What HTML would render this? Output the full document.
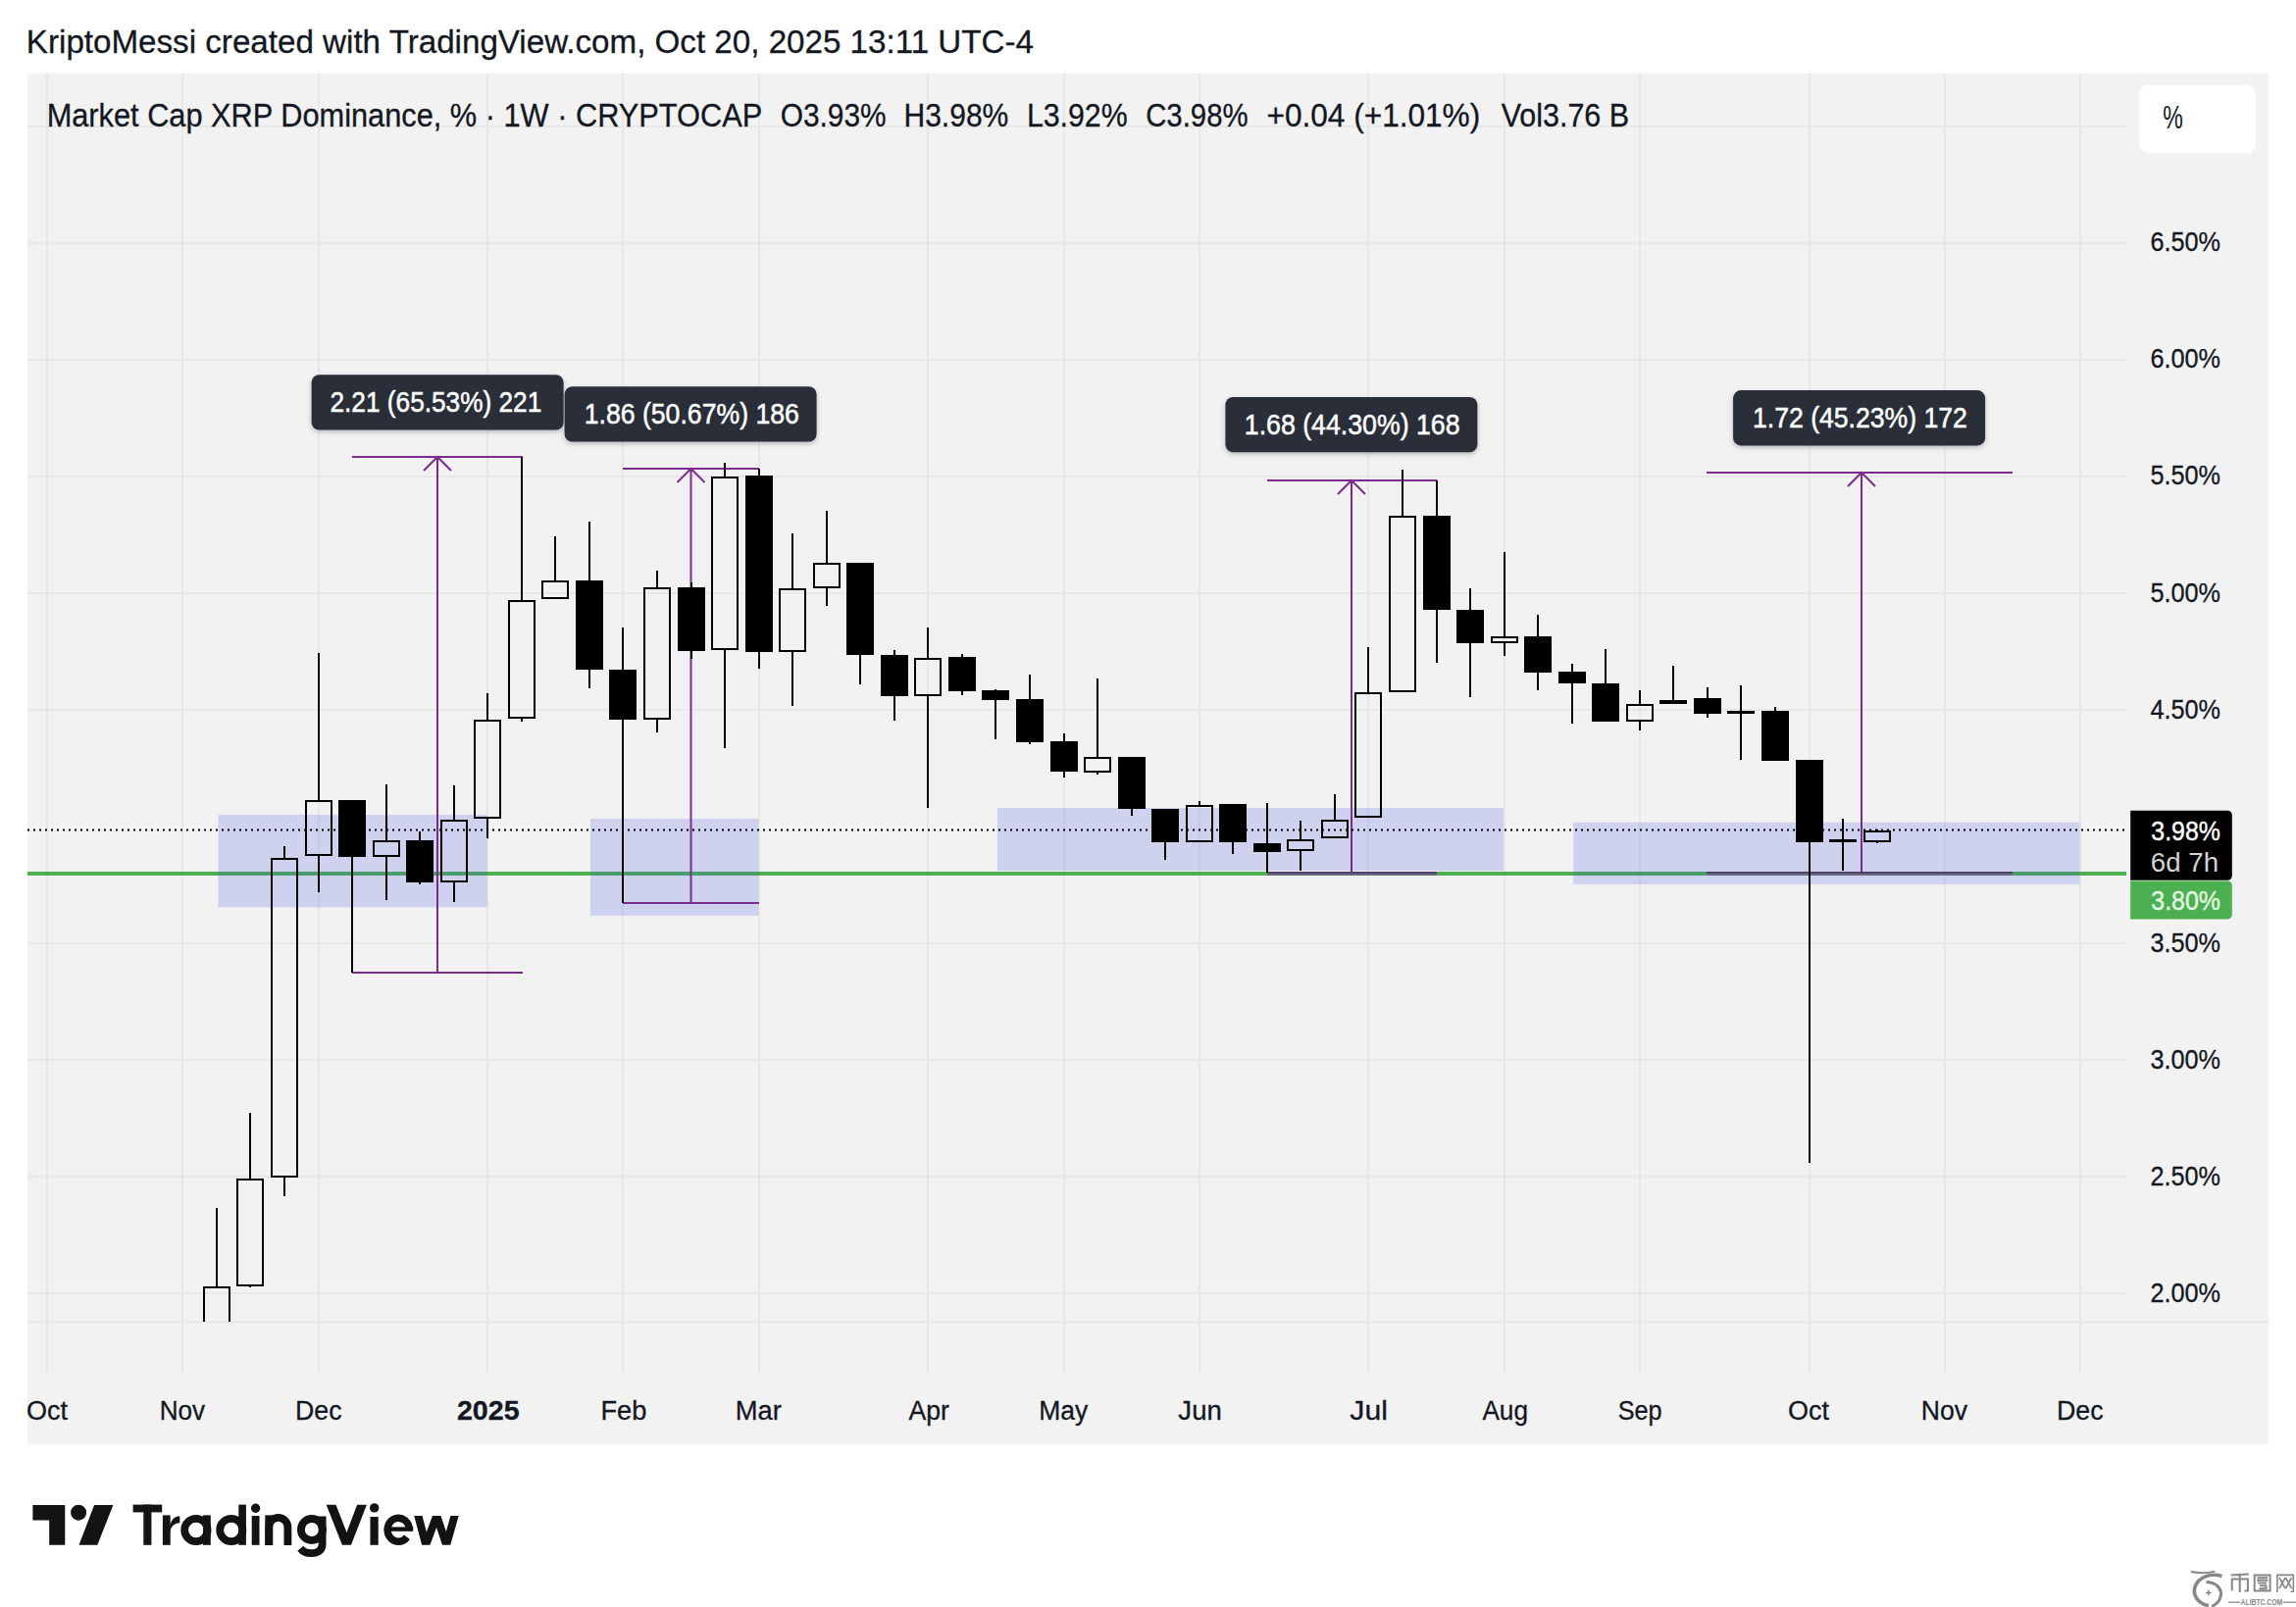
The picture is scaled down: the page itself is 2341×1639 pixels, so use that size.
<!DOCTYPE html>
<html><head><meta charset="utf-8"><style>
html,body{margin:0;padding:0;background:#fff;width:2341px;height:1639px;overflow:hidden}
svg{position:absolute;left:0;top:0;font-family:"Liberation Sans",sans-serif}
</style></head><body>
<svg width="2341" height="1639" viewBox="0 0 2341 1639">
<defs><filter id="sh" x="-10%" y="-20%" width="120%" height="150%"><feDropShadow dx="0" dy="2" stdDeviation="2.5" flood-color="#000" flood-opacity="0.25"/></filter></defs>
<rect x="28" y="75" width="2285" height="1398" fill="#f2f2f2"/>
<path d="M48 75V1400 M186 75V1400 M325 75V1400 M497 75V1400 M635 75V1400 M774 75V1400 M946 75V1400 M1085 75V1400 M1223 75V1400 M1395 75V1400 M1534 75V1400 M1672 75V1400 M1845 75V1400 M1983 75V1400 M2121 75V1400 M28 129H2168 M28 248H2168 M28 367H2168 M28 486H2168 M28 605H2168 M28 724H2168 M28 962H2168 M28 1081H2168 M28 1200H2168 M28 1319H2168" stroke="#e7e7e7" stroke-width="2" fill="none"/>
<path d="M28 1348.5H2313" stroke="#e7e7e7" stroke-width="2"/>
<rect x="28" y="889" width="2140" height="4" fill="#4caf50"/>
<rect x="222.5" y="831" width="274.2" height="94.4" fill="rgba(72,87,227,0.20)"/>
<rect x="602" y="835" width="171.5" height="99.0" fill="rgba(72,87,227,0.20)"/>
<rect x="1017" y="824" width="516.0" height="64.0" fill="rgba(72,87,227,0.20)"/>
<rect x="1604.2" y="838.7" width="516.2" height="63.3" fill="rgba(72,87,227,0.20)"/>
<path d="M359 466H533 M359 992H533 M446 466V992 M432 480L446 466L460 480 M635 478H774 M635 921H774 M704.5 478V921 M690.5 492L704.5 478L718.5 492 M1292 490H1465 M1378 490V889 M1364 504L1378 490L1392 504 M1740 482H2052 M1898 482V889 M1884 496L1898 482L1912 496" stroke="#7b2c8e" stroke-width="2" fill="none"/>
<path d="M1292 890H1465M1740 890H2052" stroke="#4f416c" stroke-width="2"/><path d="M1292 892H1465M1740 892H2052" stroke="#6a6c80" stroke-width="2"/>
<clipPath id="pane"><rect x="28" y="75" width="2140" height="1273"/></clipPath>
<g clip-path="url(#pane)" fill="#000"><rect x="220" y="1232" width="2" height="80"/><path d="M207 1312H235V1360H207Z M209 1314V1358H233V1314Z" fill-rule="evenodd"/><rect x="254" y="1135" width="2" height="67"/><rect x="254" y="1312" width="2" height="1"/><path d="M241 1202H269V1312H241Z M243 1204V1310H267V1204Z" fill-rule="evenodd"/><rect x="289" y="863" width="2" height="12"/><rect x="289" y="1201" width="2" height="19"/><path d="M276 875H304V1201H276Z M278 877V1199H302V877Z" fill-rule="evenodd"/><rect x="324" y="666" width="2" height="150"/><rect x="324" y="873" width="2" height="37"/><path d="M311 816H339V873H311Z M313 818V871H337V818Z" fill-rule="evenodd"/><rect x="358" y="874" width="2" height="118"/><rect x="345" y="816" width="28" height="58"/><rect x="393" y="800" width="2" height="57"/><rect x="393" y="874" width="2" height="44"/><path d="M380 857H408V874H380Z M382 859V872H406V859Z" fill-rule="evenodd"/><rect x="427" y="848" width="2" height="9"/><rect x="427" y="900" width="2" height="2"/><rect x="414" y="857" width="28" height="43"/><rect x="462" y="801" width="2" height="35"/><rect x="462" y="900" width="2" height="20"/><path d="M449 836H477V900H449Z M451 838V898H475V838Z" fill-rule="evenodd"/><rect x="496" y="707" width="2" height="27"/><rect x="496" y="835" width="2" height="20"/><path d="M483 734H511V835H483Z M485 736V833H509V736Z" fill-rule="evenodd"/><rect x="531" y="466" width="2" height="146"/><rect x="531" y="733" width="2" height="3"/><path d="M518 612H546V733H518Z M520 614V731H544V614Z" fill-rule="evenodd"/><rect x="565" y="547" width="2" height="45"/><path d="M552 592H580V611H552Z M554 594V609H578V594Z" fill-rule="evenodd"/><rect x="600" y="532" width="2" height="60"/><rect x="600" y="683" width="2" height="19"/><rect x="587" y="592" width="28" height="91"/><rect x="634" y="640" width="2" height="43"/><rect x="634" y="734" width="2" height="187"/><rect x="621" y="683" width="28" height="51"/><rect x="669" y="582" width="2" height="17"/><rect x="669" y="734" width="2" height="13"/><path d="M656 599H684V734H656Z M658 601V732H682V601Z" fill-rule="evenodd"/><rect x="704" y="594" width="2" height="5"/><rect x="704" y="664" width="2" height="8"/><rect x="691" y="599" width="28" height="65"/><rect x="738" y="472" width="2" height="14"/><rect x="738" y="663" width="2" height="100"/><path d="M725 486H753V663H725Z M727 488V661H751V488Z" fill-rule="evenodd"/><rect x="773" y="478" width="2" height="7"/><rect x="773" y="665" width="2" height="17"/><rect x="760" y="485" width="28" height="180"/><rect x="807" y="544" width="2" height="56"/><rect x="807" y="665" width="2" height="55"/><path d="M794 600H822V665H794Z M796 602V663H820V602Z" fill-rule="evenodd"/><rect x="842" y="521" width="2" height="53"/><rect x="842" y="600" width="2" height="18"/><path d="M829 574H857V600H829Z M831 576V598H855V576Z" fill-rule="evenodd"/><rect x="876" y="668" width="2" height="30"/><rect x="863" y="574" width="28" height="94"/><rect x="911" y="663" width="2" height="5"/><rect x="911" y="710" width="2" height="25"/><rect x="898" y="668" width="28" height="42"/><rect x="945" y="640" width="2" height="31"/><rect x="945" y="710" width="2" height="114"/><path d="M932 671H960V710H932Z M934 673V708H958V673Z" fill-rule="evenodd"/><rect x="980" y="667" width="2" height="3"/><rect x="980" y="705" width="2" height="4"/><rect x="967" y="670" width="28" height="35"/><rect x="1014" y="703" width="2" height="1"/><rect x="1014" y="714" width="2" height="40"/><rect x="1001" y="704" width="28" height="10"/><rect x="1049" y="688" width="2" height="25"/><rect x="1049" y="757" width="2" height="2"/><rect x="1036" y="713" width="28" height="44"/><rect x="1084" y="748" width="2" height="8"/><rect x="1084" y="787" width="2" height="6"/><rect x="1071" y="756" width="28" height="31"/><rect x="1118" y="692" width="2" height="80"/><rect x="1118" y="788" width="2" height="2"/><path d="M1105 772H1133V788H1105Z M1107 774V786H1131V774Z" fill-rule="evenodd"/><rect x="1153" y="825" width="2" height="7"/><rect x="1140" y="772" width="28" height="53"/><rect x="1187" y="859" width="2" height="18"/><rect x="1174" y="825" width="28" height="34"/><rect x="1222" y="817" width="2" height="4"/><path d="M1209 821H1237V859H1209Z M1211 823V857H1235V823Z" fill-rule="evenodd"/><rect x="1256" y="859" width="2" height="12"/><rect x="1243" y="820" width="28" height="39"/><rect x="1291" y="819" width="2" height="41"/><rect x="1291" y="869" width="2" height="21"/><rect x="1278" y="860" width="28" height="9"/><rect x="1325" y="837" width="2" height="19"/><rect x="1325" y="868" width="2" height="20"/><path d="M1312 856H1340V868H1312Z M1314 858V866H1338V858Z" fill-rule="evenodd"/><rect x="1360" y="810" width="2" height="26"/><path d="M1347 836H1375V855H1347Z M1349 838V853H1373V838Z" fill-rule="evenodd"/><rect x="1394" y="660" width="2" height="46"/><path d="M1381 706H1409V834H1381Z M1383 708V832H1407V708Z" fill-rule="evenodd"/><rect x="1429" y="479" width="2" height="47"/><path d="M1416 526H1444V706H1416Z M1418 528V704H1442V528Z" fill-rule="evenodd"/><rect x="1464" y="490" width="2" height="36"/><rect x="1464" y="622" width="2" height="54"/><rect x="1451" y="526" width="28" height="96"/><rect x="1498" y="600" width="2" height="22"/><rect x="1498" y="656" width="2" height="55"/><rect x="1485" y="622" width="28" height="34"/><rect x="1533" y="563" width="2" height="86"/><rect x="1533" y="656" width="2" height="13"/><path d="M1520 649H1548V656H1520Z M1522 651V654H1546V651Z" fill-rule="evenodd"/><rect x="1567" y="627" width="2" height="22"/><rect x="1567" y="686" width="2" height="18"/><rect x="1554" y="649" width="28" height="37"/><rect x="1602" y="677" width="2" height="8"/><rect x="1602" y="697" width="2" height="41"/><rect x="1589" y="685" width="28" height="12"/><rect x="1636" y="662" width="2" height="35"/><rect x="1623" y="697" width="28" height="39"/><rect x="1671" y="704" width="2" height="14"/><rect x="1671" y="736" width="2" height="9"/><path d="M1658 718H1686V736H1658Z M1660 720V734H1684V720Z" fill-rule="evenodd"/><rect x="1705" y="679" width="2" height="35"/><rect x="1692" y="714" width="28" height="4"/><rect x="1740" y="701" width="2" height="11"/><rect x="1740" y="728" width="2" height="4"/><rect x="1727" y="712" width="28" height="16"/><rect x="1774" y="699" width="2" height="26"/><rect x="1774" y="728" width="2" height="47"/><rect x="1761" y="725" width="28" height="3"/><rect x="1809" y="721" width="2" height="4"/><rect x="1796" y="725" width="28" height="51"/><rect x="1844" y="859" width="2" height="327"/><rect x="1831" y="775" width="28" height="84"/><rect x="1878" y="835" width="2" height="21"/><rect x="1878" y="859" width="2" height="29"/><rect x="1865" y="856" width="28" height="3"/><rect x="1913" y="846" width="2" height="1"/><rect x="1913" y="859" width="2" height="1"/><path d="M1900 847H1928V859H1900Z M1902 849V857H1926V849Z" fill-rule="evenodd"/></g>
<path d="M28 846.5H2167" stroke="#000" stroke-width="2" stroke-dasharray="2 4"/>
<rect x="317.6" y="382.2" width="257" height="56.3" rx="8" fill="#2a2e39" filter="url(#sh)"/>
<text x="336.50" y="420.20" font-size="29" font-weight="normal" fill="#ffffff" textLength="215.77" lengthAdjust="spacingAndGlyphs" stroke="#ffffff" stroke-width="0.5">2.21 (65.53%) 221</text>
<rect x="575.6" y="394.2" width="257" height="56.3" rx="8" fill="#2a2e39" filter="url(#sh)"/>
<text x="595.66" y="432.20" font-size="29" font-weight="normal" fill="#ffffff" textLength="219.23" lengthAdjust="spacingAndGlyphs" stroke="#ffffff" stroke-width="0.5">1.86 (50.67%) 186</text>
<rect x="1249.4" y="405" width="257" height="56.3" rx="8" fill="#2a2e39" filter="url(#sh)"/>
<text x="1268.86" y="443.00" font-size="29" font-weight="normal" fill="#ffffff" textLength="219.64" lengthAdjust="spacingAndGlyphs" stroke="#ffffff" stroke-width="0.5">1.68 (44.30%) 168</text>
<rect x="1767.1" y="398.1" width="257" height="56.3" rx="8" fill="#2a2e39" filter="url(#sh)"/>
<text x="1787.07" y="436.10" font-size="29" font-weight="normal" fill="#ffffff" textLength="218.72" lengthAdjust="spacingAndGlyphs" stroke="#ffffff" stroke-width="0.5">1.72 (45.23%) 172</text>
<text x="2192.50" y="256.40" font-size="28" font-weight="normal" fill="#131722" textLength="71.57" lengthAdjust="spacingAndGlyphs" stroke="#131722" stroke-width="0.3">6.50%</text>
<text x="2192.50" y="375.44" font-size="28" font-weight="normal" fill="#131722" textLength="71.57" lengthAdjust="spacingAndGlyphs" stroke="#131722" stroke-width="0.3">6.00%</text>
<text x="2192.50" y="494.47" font-size="28" font-weight="normal" fill="#131722" textLength="71.57" lengthAdjust="spacingAndGlyphs" stroke="#131722" stroke-width="0.3">5.50%</text>
<text x="2192.50" y="613.50" font-size="28" font-weight="normal" fill="#131722" textLength="71.57" lengthAdjust="spacingAndGlyphs" stroke="#131722" stroke-width="0.3">5.00%</text>
<text x="2192.50" y="732.54" font-size="28" font-weight="normal" fill="#131722" textLength="71.57" lengthAdjust="spacingAndGlyphs" stroke="#131722" stroke-width="0.3">4.50%</text>
<text x="2192.50" y="970.61" font-size="28" font-weight="normal" fill="#131722" textLength="71.57" lengthAdjust="spacingAndGlyphs" stroke="#131722" stroke-width="0.3">3.50%</text>
<text x="2192.50" y="1089.64" font-size="28" font-weight="normal" fill="#131722" textLength="71.57" lengthAdjust="spacingAndGlyphs" stroke="#131722" stroke-width="0.3">3.00%</text>
<text x="2192.50" y="1208.68" font-size="28" font-weight="normal" fill="#131722" textLength="71.57" lengthAdjust="spacingAndGlyphs" stroke="#131722" stroke-width="0.3">2.50%</text>
<text x="2192.50" y="1327.71" font-size="28" font-weight="normal" fill="#131722" textLength="71.57" lengthAdjust="spacingAndGlyphs" stroke="#131722" stroke-width="0.3">2.00%</text>
<path d="M2172.2 826.8H2271.3A4.5 4.5 0 0 1 2275.8 831.3V893.3A4.5 4.5 0 0 1 2271.3 897.8H2172.2Z" fill="#000"/>
<text x="2193.31" y="856.50" font-size="28" font-weight="normal" fill="#ffffff" textLength="70.54" lengthAdjust="spacingAndGlyphs" stroke="#ffffff" stroke-width="0.4">3.98%</text>
<text x="2192.81" y="888.80" font-size="28" font-weight="normal" fill="#d2d2d2" textLength="69.24" lengthAdjust="spacingAndGlyphs">6d 7h</text>
<path d="M2172.2 898.5H2271.3A4.5 4.5 0 0 1 2275.8 903V932.9A4.5 4.5 0 0 1 2271.3 937.4H2172.2Z" fill="#4caf50"/>
<text x="2193.31" y="927.70" font-size="28" font-weight="normal" fill="#e3f9e3" textLength="70.54" lengthAdjust="spacingAndGlyphs" stroke="#e3f9e3" stroke-width="0.4">3.80%</text>
<text x="27.00" y="1448.00" font-size="27" font-weight="normal" fill="#131722" textLength="42.02" lengthAdjust="spacingAndGlyphs" stroke="#131722" stroke-width="0.3">Oct</text>
<text x="162.67" y="1448.00" font-size="27" font-weight="normal" fill="#131722" textLength="46.35" lengthAdjust="spacingAndGlyphs" stroke="#131722" stroke-width="0.3">Nov</text>
<text x="301.02" y="1448.00" font-size="27" font-weight="normal" fill="#131722" textLength="47.48" lengthAdjust="spacingAndGlyphs" stroke="#131722" stroke-width="0.3">Dec</text>
<text x="465.94" y="1448.00" font-size="27" font-weight="bold" fill="#131722" textLength="63.60" lengthAdjust="spacingAndGlyphs" stroke="#131722" stroke-width="0.3">2025</text>
<text x="612.49" y="1448.00" font-size="27" font-weight="normal" fill="#131722" textLength="46.86" lengthAdjust="spacingAndGlyphs" stroke="#131722" stroke-width="0.3">Feb</text>
<text x="749.77" y="1448.00" font-size="27" font-weight="normal" fill="#131722" textLength="47.13" lengthAdjust="spacingAndGlyphs" stroke="#131722" stroke-width="0.3">Mar</text>
<text x="926.50" y="1448.00" font-size="27" font-weight="normal" fill="#131722" textLength="41.43" lengthAdjust="spacingAndGlyphs" stroke="#131722" stroke-width="0.3">Apr</text>
<text x="1059.34" y="1448.00" font-size="27" font-weight="normal" fill="#131722" textLength="49.97" lengthAdjust="spacingAndGlyphs" stroke="#131722" stroke-width="0.3">May</text>
<text x="1201.38" y="1448.00" font-size="27" font-weight="normal" fill="#131722" textLength="44.40" lengthAdjust="spacingAndGlyphs" stroke="#131722" stroke-width="0.3">Jun</text>
<text x="1376.38" y="1448.00" font-size="27" font-weight="normal" fill="#131722" textLength="38.51" lengthAdjust="spacingAndGlyphs" stroke="#131722" stroke-width="0.3">Jul</text>
<text x="1511.40" y="1448.00" font-size="27" font-weight="normal" fill="#131722" textLength="46.58" lengthAdjust="spacingAndGlyphs" stroke="#131722" stroke-width="0.3">Aug</text>
<text x="1649.77" y="1448.00" font-size="27" font-weight="normal" fill="#131722" textLength="44.81" lengthAdjust="spacingAndGlyphs" stroke="#131722" stroke-width="0.3">Sep</text>
<text x="1823.00" y="1448.00" font-size="27" font-weight="normal" fill="#131722" textLength="42.02" lengthAdjust="spacingAndGlyphs" stroke="#131722" stroke-width="0.3">Oct</text>
<text x="1958.73" y="1448.00" font-size="27" font-weight="normal" fill="#131722" textLength="47.28" lengthAdjust="spacingAndGlyphs" stroke="#131722" stroke-width="0.3">Nov</text>
<text x="2097.02" y="1448.00" font-size="27" font-weight="normal" fill="#131722" textLength="47.59" lengthAdjust="spacingAndGlyphs" stroke="#131722" stroke-width="0.3">Dec</text>
<text x="47.66" y="128.70" font-size="32.5" font-weight="normal" fill="#131722" textLength="729.49" lengthAdjust="spacingAndGlyphs" stroke="#131722" stroke-width="0.3">Market Cap XRP Dominance, % · 1W · CRYPTOCAP</text>
<text x="795.76" y="128.70" font-size="32.5" font-weight="normal" fill="#131722" textLength="107.86" lengthAdjust="spacingAndGlyphs" stroke="#131722" stroke-width="0.3">O3.93%</text>
<text x="921.53" y="128.70" font-size="32.5" font-weight="normal" fill="#131722" textLength="106.75" lengthAdjust="spacingAndGlyphs" stroke="#131722" stroke-width="0.3">H3.98%</text>
<text x="1046.90" y="128.70" font-size="32.5" font-weight="normal" fill="#131722" textLength="102.75" lengthAdjust="spacingAndGlyphs" stroke="#131722" stroke-width="0.3">L3.92%</text>
<text x="1168.19" y="128.70" font-size="32.5" font-weight="normal" fill="#131722" textLength="104.37" lengthAdjust="spacingAndGlyphs" stroke="#131722" stroke-width="0.3">C3.98%</text>
<text x="1291.56" y="128.70" font-size="32.5" font-weight="normal" fill="#131722" textLength="217.63" lengthAdjust="spacingAndGlyphs" stroke="#131722" stroke-width="0.3">+0.04 (+1.01%)</text>
<text x="1530.70" y="128.70" font-size="32.5" font-weight="normal" fill="#131722" textLength="130.37" lengthAdjust="spacingAndGlyphs" stroke="#131722" stroke-width="0.3">Vol3.76 B</text>
<rect x="2181" y="87" width="119" height="69" rx="9" fill="#fff"/>
<text x="2205.32" y="131.00" font-size="34" font-weight="normal" fill="#131722" textLength="20.52" lengthAdjust="spacingAndGlyphs">%</text>
<text x="26.89" y="53.80" font-size="33" font-weight="normal" fill="#131722" textLength="1027.09" lengthAdjust="spacingAndGlyphs" stroke="#131722" stroke-width="0.3">KriptoMessi created with TradingView.com, Oct 20, 2025 13:11 UTC-4</text>
<path d="M33.4 1534.9H66.3V1575.7H50.2V1550.6H33.4Z" fill="#131313"/>
<circle cx="80.1" cy="1542.7" r="8" fill="#131313"/>
<path d="M96.1 1534.9H115.4L99.3 1575.7H80.5Z" fill="#131313"/>
<clipPath id="tvc"><rect x="415" y="1545.9" width="60" height="29.9"/></clipPath>
<g fill="#131313"><rect x="135.6" y="1534.6" width="29.6" height="7.8"/><rect x="146.3" y="1534.6" width="8.1" height="41.2"/><rect x="165.9" y="1545.4" width="7.8" height="30.4"/><path d="M173.2 1557C174.5 1550 178 1546.3 183.3 1546.3V1553.3C178.5 1553.3 175.2 1556 173.2 1562Z"/><rect x="207" y="1545.4" width="7.8" height="30.4"/><rect x="243.3" y="1534.6" width="7.6" height="41.2"/><rect x="256.7" y="1546" width="7.8" height="29.8"/><circle cx="260.6" cy="1538.2" r="4.7"/><rect x="270.3" y="1545.4" width="7.9" height="30.4"/><path d="M332.7 1534.7H342.5L353.5 1562.9L364.1 1534.7H373.9L358 1575.8H348.9Z"/><rect x="377.5" y="1547" width="8.2" height="28.8"/><circle cx="381.7" cy="1537.9" r="4.7"/><rect x="397" y="1557.4" width="24.2" height="4.4"/></g>
<g fill="none" stroke="#131313" stroke-width="7.8"><circle cx="199.9" cy="1560.5" r="11.7"/><circle cx="235.8" cy="1560.5" r="11.6"/><path d="M274.2 1576V1557.5A9.6 9.6 0 0 1 293.4 1557.5V1576"/><circle cx="317.9" cy="1560" r="11"/><path d="M328.6 1546.5V1575C328.6 1581.3 324 1584.2 317.5 1584.2C312.5 1584.2 308.8 1582.3 306.3 1579.2"/><path d="M417.4 1560.3A11.15 12 0 1 0 415 1567.7" stroke-width="7.4"/><path d="M424.29 1538.17L434.25 1575.60L445.25 1545.90L455.15 1575.60L465.73 1538.20" clip-path="url(#tvc)" stroke-width="8" stroke-linejoin="miter" stroke-miterlimit="10"/></g>
<g fill="none" stroke="#878787" stroke-width="2" stroke-linecap="butt"><path d="M2234 1603Q2246 1605.5 2258.5 1602.6"/><path d="M2265.5 1607.5Q2252 1603.5 2242 1612Q2235 1620 2238.5 1628Q2242 1636 2252 1637.5" stroke-width="3.6"/><path d="M2249.5 1613.5Q2262 1614 2264.5 1624Q2265 1634 2255 1638.5" stroke-width="3"/><path d="M2274.5 1606.6L2292.9 1605.4M2283.7 1606.5V1624M2275.7 1622.5V1610.5H2291.9V1622.4H2288.5"/><path d="M2298.7 1606.4H2314.6V1622.6H2298.7Z M2301.5 1609.2H2312M2301 1611.8H2312.5M2302 1614.5H2311M2304 1617.3H2310.5V1620.2H2303.5"/><path d="M2321.9 1624V1606.4H2338.3V1623.3H2335.5M2324 1609L2330 1620M2330 1609L2324 1620M2330.5 1609L2336.5 1620M2336.5 1609L2330.5 1620" stroke-width="1.6"/><path d="M2272 1634.2H2284.2M2327.7 1634.2H2341" stroke-width="1.2"/></g>
<path d="M2251.8 1620.8L2252.8 1623.5L2255.5 1624.5L2252.8 1625.5L2251.8 1628.2L2250.8 1625.5L2248.1 1624.5L2250.8 1623.5Z" fill="#878787"/>
<text x="2284.6" y="1636.8" font-size="8.6" font-weight="bold" fill="#878787" textLength="42.6" lengthAdjust="spacingAndGlyphs">ALIBTC.COM</text>
</svg>
</body></html>
